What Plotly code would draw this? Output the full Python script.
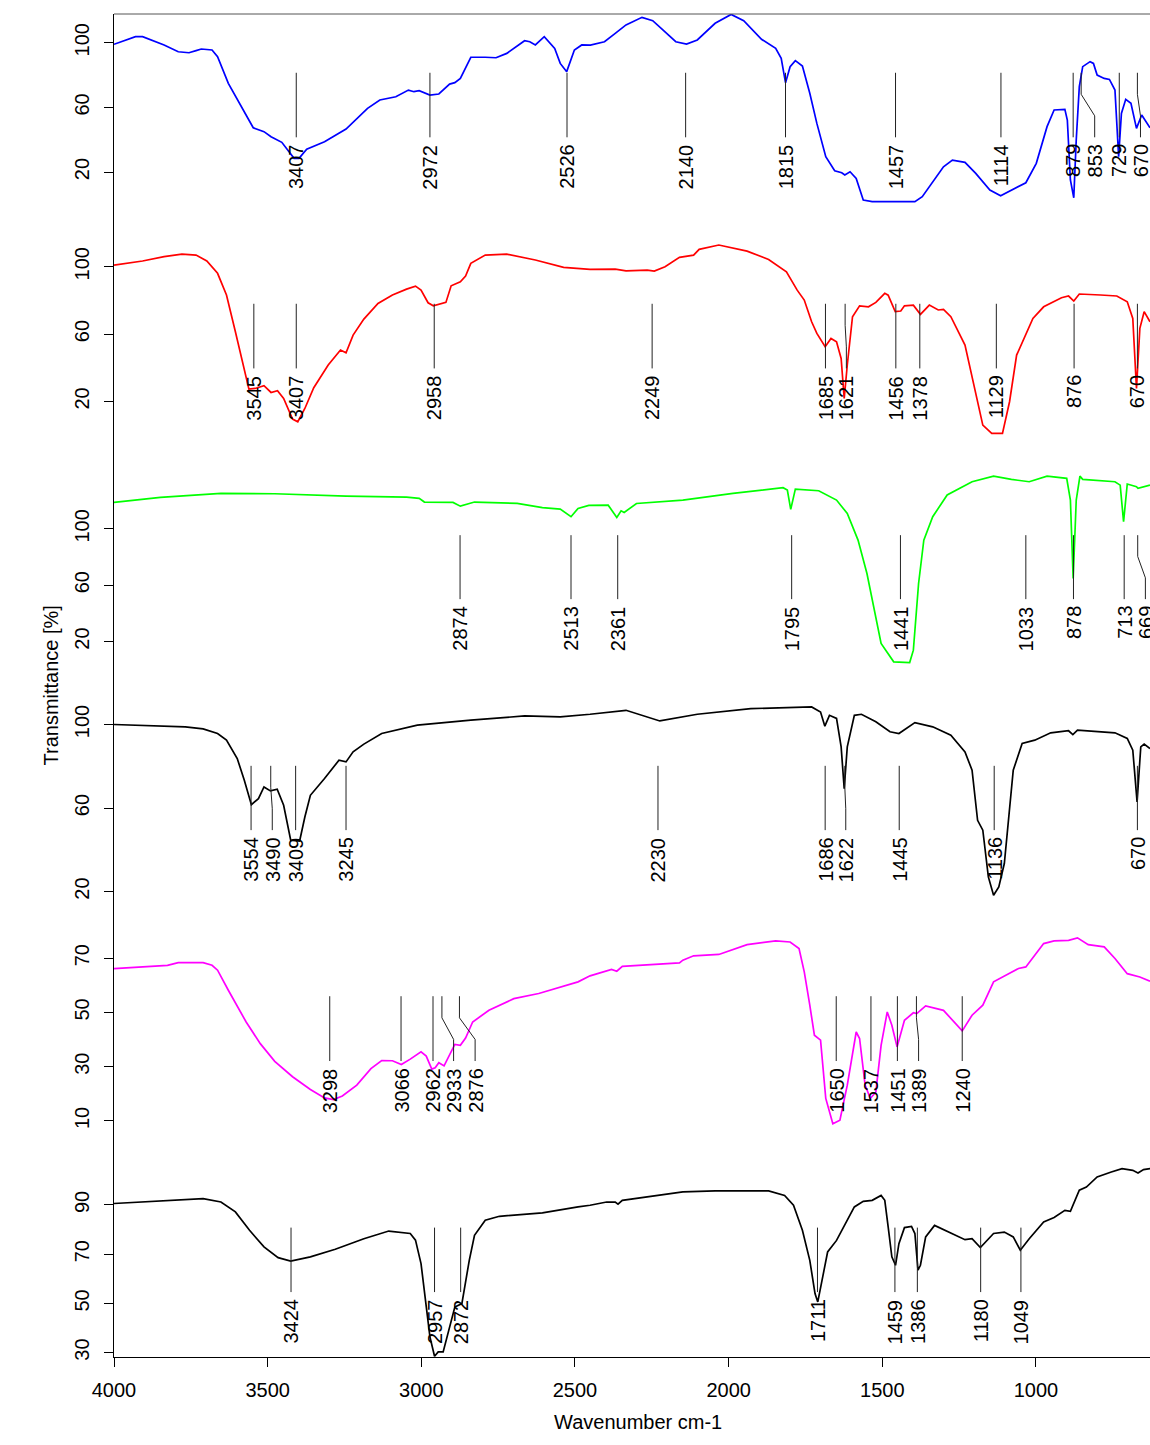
import plotly.graph_objects as go

# ---------------- data: (wavenumber, transmittance) ----------------
BLUE = [(4000,99.0),(3930,103.7),(3907,103.7),(3837,98.6),(3791,94.4),(3756,93.8),(3733,95.1),(3716,96.1),
        (3681,95.5),(3663,91.4),(3628,74.9),(3594,63.5),(3547,47.4),(3512,45.0),(3489,41.9),(3454,38.4),
        (3425,31.6),(3414,28.5),(3398,28.5),(3373,34.2),(3315,38.8),(3245,46.6),(3175,59.4),(3135,64.6),
        (3083,66.6),(3042,70.7),(3024,69.7),(3007,70.3),(2972,67.6),(2943,68.3),(2908,74.4),(2891,75.3),
        (2873,77.9),(2839,91.0),(2792,91.0),(2757,90.7),(2722,93.4),(2664,101.2),(2647,100.6),(2629,98.6),
        (2600,103.7),(2566,96.5),(2548,87.2),(2527,82.1),(2502,95.5),(2478,98.6),(2450,98.5),(2404,100.6),
        (2369,105.8),(2334,111.0),(2282,115.7),(2247,113.6),(2172,100.6),(2137,99.2),(2102,101.7),(2044,112.0),
        (1992,117.5),(1951,113.6),(1893,102.1),(1847,96.5),(1829,90.3),(1815,75.3),(1800,85.2),(1783,88.9),
        (1760,85.6),(1736,68.7),(1713,50.1),(1684,29.5),(1655,20.8),(1632,19.6),(1622,18.2),(1605,20.2),
        (1585,16.1),(1562,2.7),(1533,1.7),(1394,1.7),(1370,4.8),(1301,23.3),(1272,27.4),(1231,26.0),
        (1196,19.2),(1150,8.9),(1115,5.4),(1057,10.9),(1033,13.4),(999,25.4),(964,48.1),(941,58.4),
        (906,58.8),(898,52.2),(888,15.1),(877,4.1),(869,39.8),(859,72.8),(848,85.2),(824,88.3),(813,87.2),
        (801,80.0),(778,77.9),(761,77.3),(743,70.7),(731,29.5),(722,56.3),(708,65.0),(691,62.5),(673,47.0),
        (656,55.3),(629,47.4)]

RED = [(4000,101.0),(3907,103.4),(3837,106.0),(3779,107.5),(3733,106.9),(3698,103.4),(3663,96.1),(3634,83.2),
       (3605,61.4),(3582,43.6),(3561,27.3),(3541,27.7),(3512,29.3),(3489,25.3),(3468,26.3),(3448,21.8),
       (3419,9.5),(3402,7.9),(3379,15.8),(3350,28.1),(3303,41.6),(3263,50.5),(3245,48.9),(3222,59.4),
       (3187,68.9),(3141,78.2),(3094,83.2),(3048,86.7),(3019,88.5),(3001,86.1),(2978,78.6),(2961,76.8),
       (2920,78.8),(2903,88.7),(2873,91.1),(2856,94.5),(2839,102.0),(2792,106.9),(2722,107.5),(2629,104.0),
       (2537,99.6),(2451,98.4),(2369,98.6),(2334,97.6),(2265,98.0),(2242,97.4),(2207,100.0),(2160,105.6),
       (2114,106.9),(2096,110.3),(2032,112.9),(1940,109.3),(1870,104.3),(1812,97.0),(1777,86.1),(1754,80.2),
       (1730,67.3),(1713,60.4),(1686,52.5),(1667,57.4),(1649,55.4),(1634,45.5),(1624,21.7),(1614,41.6),
       (1597,70.3),(1574,76.8),(1545,76.2),(1521,78.8),(1492,84.2),(1481,83.1),(1458,73.3),(1440,73.7),
       (1428,76.8),(1399,77.2),(1376,71.7),(1347,77.2),(1318,74.3),(1301,74.7),(1277,70.3),(1231,53.5),
       (1196,25.7),(1173,5.9),(1144,1.0),(1109,1.0),(1086,19.8),(1063,47.5),(1010,69.3),(975,76.2),
       (917,81.6),(894,82.6),(877,79.6),(859,83.8),(790,83.2),(737,82.6),(703,79.2),(685,69.3),(673,27.7),
       (662,63.4),(648,73.3),(629,67.3)]

GREEN = [(4000,118.7),(3849,122.3),(3652,125.1),(3477,124.9),(3245,123.2),(3048,122.5),(3007,121.6),(2990,119.0),
         (2897,118.7),(2873,116.1),(2827,119.0),(2688,118.0),(2606,115.0),(2548,114.0),(2513,108.6),(2490,114.5),
         (2455,116.6),(2392,116.8),(2364,108.1),(2350,112.8),(2340,111.6),(2300,118.0),(2149,120.4),(1986,125.1),
         (1823,129.2),(1809,127.5),(1798,113.8),(1783,128.2),(1707,127.0),(1649,120.4),(1614,110.9),(1579,92.0),
         (1550,68.3),(1527,44.6),(1504,18.6),(1463,5.6),(1411,5.1),(1399,13.9),(1382,61.2),(1365,92.0),
         (1336,108.6),(1289,124.0),(1208,133.4),(1138,137.4),(1080,135.1),(1022,133.4),(964,137.4),(900,135.8),
         (888,120.4),(879,64.8),(869,120.4),(857,137.4),(848,135.1),(743,133.4),(726,131.0),(715,105.0),
         (703,131.8),(673,129.9),(668,128.7),(629,131.0)]

BLACK1 = [(4000,100.0),(3884,99.5),(3768,98.9),(3710,97.9),(3663,95.7),(3634,92.5),(3599,83.7),(3576,73.3),
          (3553,61.6),(3530,64.5),(3512,70.1),(3491,68.2),(3469,69.0),(3448,61.3),(3425,44.6),(3396,44.2),
          (3379,55.7),(3361,66.1),(3315,74.1),(3268,82.9),(3245,82.1),(3222,86.9),(3187,90.6),(3129,95.7),
          (3013,99.7),(2839,102.1),(2664,104.1),(2548,103.7),(2451,104.9),(2334,106.8),(2224,101.7),(2102,104.9),
          (1928,107.6),(1730,108.4),(1701,106.0),(1687,99.2),(1672,104.4),(1649,102.9),(1634,89.3),(1624,69.3),
          (1614,89.3),(1591,104.4),(1568,104.9),(1521,101.3),(1475,96.5),(1446,95.7),(1423,98.1),(1394,100.9),
          (1336,98.9),(1277,94.9),(1231,86.9),(1208,78.1),(1190,54.1),(1173,49.4),(1155,27.0),(1138,18.2),
          (1121,22.2),(1103,33.4),(1074,78.1),(1045,90.9),(1004,92.5),(952,96.0),(894,97.0),(880,95.2),
          (865,97.3),(743,96.0),(703,93.3),(685,87.7),(671,62.9),(659,89.3),(648,90.6),(629,88.5)]

MAGENTA = [(4000,66.2),(3907,66.8),(3826,67.4),(3791,68.4),(3710,68.4),(3681,67.4),(3663,65.6),(3628,58.2),
           (3570,46.5),(3524,38.5),(3477,32.0),(3419,26.3),(3361,21.6),(3315,18.5),(3286,17.9),(3257,19.2),
           (3210,23.2),(3164,29.3),(3129,32.3),(3094,32.2),(3065,30.8),(3036,32.8),(3001,35.5),(2984,33.9),
           (2966,29.1),(2955,29.6),(2943,31.5),(2926,30.3),(2908,34.2),(2891,38.2),(2873,37.9),(2856,40.6),
           (2833,46.5),(2780,50.8),(2699,55.1),(2618,57.0),(2490,61.3),(2451,63.5),(2381,65.9),(2364,65.2),
           (2346,67.0),(2160,68.3),(2149,69.3),(2114,70.9),(2032,71.4),(2009,72.3),(1940,75.0),(1847,76.4),
           (1800,76.0),(1771,73.6),(1754,65.0),(1736,52.7),(1721,41.6),(1701,39.8),(1684,18.3),(1661,9.0),
           (1638,10.3),(1614,23.2),(1585,42.8),(1574,40.4),(1556,23.2),(1539,18.3),(1521,20.7),(1504,37.9),
           (1484,50.2),(1469,45.3),(1452,37.3),(1428,47.1),(1399,49.9),(1388,49.6),(1359,52.4),(1301,50.8),
           (1266,46.5),(1240,43.2),(1208,49.0),(1173,52.7),(1138,61.3),(1057,66.2),(1033,66.8),(975,75.4),
           (941,76.4),(894,76.6),(865,77.5),(830,75.0),(778,74.2),(743,69.9),(703,64.3),(662,63.1),(629,61.5)]

BLACK2 = [(4000,90.6),(3826,91.9),(3710,92.6),(3652,91.2),(3605,87.2),(3559,79.7),(3512,73.0),(3466,68.6),
          (3425,67.2),(3361,68.9),(3280,72.0),(3187,76.3),(3106,79.4),(3036,78.4),(3019,75.7),(3001,66.2),
          (2987,52.6),(2972,36.4),(2957,28.5),(2945,30.3),(2929,30.3),(2908,40.4),(2891,48.5),(2868,49.9),
          (2844,67.5),(2827,77.7),(2792,83.8),(2746,85.4),(2606,86.8),(2490,89.2),(2451,89.9),(2397,91.2),
          (2369,91.2),(2360,90.3),(2346,91.9),(2149,95.3),(2044,95.7),(1870,95.7),(1818,93.9),(1789,89.9),
          (1760,79.7),(1736,67.5),(1719,54.0),(1710,50.6),(1696,59.4),(1678,70.9),(1649,75.6),(1626,81.1),
          (1591,89.2),(1562,91.5),(1533,91.9),(1504,93.9),(1492,91.9),(1481,81.1),(1469,68.9),(1457,65.5),
          (1446,74.3),(1428,80.8),(1405,81.3),(1394,78.4),(1384,63.5),(1376,65.5),(1359,77.0),(1330,81.7),
          (1301,80.0),(1254,77.0),(1231,75.9),(1208,76.3),(1181,72.7),(1138,78.4),(1103,79.0),(1074,77.0),
          (1051,71.6),(1022,76.3),(975,83.1),(941,84.9),(906,87.8),(888,87.4),(859,96.0),(836,97.3),
          (801,101.4),(755,103.4),(720,104.8),(685,104.1),(668,103.0),(650,104.4),(629,104.8)]

PEAKS = [
    [3407, 2972, 2526, 2140, 1815, 1457, 1114, 879, 853, 729, 670],
    [3545, 3407, 2958, 2249, 1685, 1621, 1456, 1378, 1129, 876, 670],
    [2874, 2513, 2361, 1795, 1441, 1033, 878, 713, 669],
    [3554, 3490, 3409, 3245, 2230, 1686, 1622, 1445, 1136, 670],
    [3298, 3066, 2962, 2933, 2876, 1650, 1537, 1451, 1389, 1240],
    [3424, 2957, 2872, 1711, 1459, 1386, 1180, 1049],
]

Y_TICKS = [[20, 60, 100], [20, 60, 100], [20, 60, 100], [20, 60, 100], [10, 30, 50, 70], [30, 50, 70, 90]]
X_TICKS = [4000, 3500, 3000, 2500, 2000, 1500, 1000]

# ---------------- styling / layout ----------------
SPECTRA = [BLUE, RED, GREEN, BLACK1, MAGENTA, BLACK2]
COLORS = ["#0000ff", "#ff0000", "#00ff00", "#000000", "#ff00ff", "#000000"]
Y_RANGES = [(-20.66, 117.75), (-15.8, 117.17), (-11.2, 147.66), (11.47, 118.68), (5.5, 88.03), (28.21, 119.19)]
LINE_SPAN = [(81.4, 41.5), (78.0, 39.6), (95.5, 50.1), (80.2, 49.4), (56.0, 32.1), (80.8, 54.6)]
LABEL_SHIFT = {(0, 853): 809, (0, 670): 660, (1, 1621): 1617, (2, 669): 644, (3, 3490): 3485,
               (3, 1622): 1619, (4, 2933): 2895, (4, 2876): 2825, (4, 1389): 1382}

FONT = "Liberation Sans, Arial, Helvetica, sans-serif"
W, H = 1150, 1445
ML, MR, MT, MB = 114, 0, 14, 88
N = len(SPECTRA)

fig = go.Figure()
for i, (spec, col) in enumerate(zip(SPECTRA, COLORS)):
    wn = [p[0] for p in spec]
    tr = [p[1] for p in spec]
    fig.add_trace(go.Scatter(x=wn, y=tr, mode="lines", line=dict(color=col, width=1.7),
                             xaxis="x", yaxis="y" if i == 0 else f"y{i+1}",
                             showlegend=False, hoverinfo="skip"))

layout = dict(
    width=W, height=H, margin=dict(l=ML, r=MR, t=MT, b=MB),
    paper_bgcolor="white", plot_bgcolor="white",
    font=dict(family=FONT, size=20, color="black"),
    xaxis=dict(range=[4000, 629], tickvals=X_TICKS, ticks="outside", ticklen=9, tickcolor="black",
               showline=True, linecolor="black", linewidth=1, showgrid=False, zeroline=False,
               anchor="y6", tickfont=dict(size=20), ticklabelstandoff=6, domain=[0, 1]),
)
for k in range(N):
    name = "yaxis" if k == 0 else f"yaxis{k+1}"
    layout[name] = dict(
        domain=[1 - (k + 1) / N, 1 - k / N], range=list(Y_RANGES[k]), tickvals=Y_TICKS[k],
        ticks="outside", ticklen=9, tickcolor="black", tickangle=-90, showline=True,
        linecolor="black", linewidth=1, showgrid=False, zeroline=False, anchor="x",
        tickfont=dict(size=20), ticklabelstandoff=7, automargin=False)
fig.update_layout(**layout)

shapes = [dict(type="line", xref="paper", yref="paper", x0=0, x1=1, y0=1, y1=1,
               line=dict(color="#555555", width=1))]
annotations = []
for k, peaks in enumerate(PEAKS):
    yref = "y" if k == 0 else f"y{k+1}"
    top, bot = LINE_SPAN[k]
    for p in peaks:
        lx = LABEL_SHIFT.get((k, p), p)
        if lx == p:
            shapes.append(dict(type="line", xref="x", yref=yref, x0=p, x1=p, y0=bot, y1=top,
                               line=dict(color="#222222", width=1)))
        else:
            y1 = top - (top - bot) / 3
            y2 = top - 2 * (top - bot) / 3
            shapes.append(dict(type="path", xref="x", yref=yref,
                               path=f"M {p},{top} L {p},{y1} L {lx},{y2} L {lx},{bot}",
                               line=dict(color="#222222", width=1)))
        annotations.append(dict(x=lx, y=bot, xref="x", yref=yref, text=str(p), showarrow=False,
                                textangle=-90, xanchor="center", yanchor="top", yshift=-5,
                                font=dict(family=FONT, size=20, color="black")))

plot_w = W - ML - MR
plot_h = H - MT - MB
annotations.append(dict(x=-(ML - 50) / plot_w, y=0.5, xref="paper", yref="paper",
                        text="Transmittance [%]", showarrow=False, textangle=-90,
                        xanchor="center", yanchor="middle", font=dict(family=FONT, size=20)))
annotations.append(dict(x=(638 - ML) / plot_w, y=-(1421.7 - (H - MB)) / plot_h, xref="paper",
                        yref="paper", text="Wavenumber cm-1", showarrow=False,
                        xanchor="center", yanchor="middle", font=dict(family=FONT, size=20)))
fig.update_layout(shapes=shapes, annotations=annotations)

fig.write_html("out.html", config={"responsive": False, "displayModeBar": False},
               post_script="document.body.style.margin='0';document.body.style.overflow='hidden';")
